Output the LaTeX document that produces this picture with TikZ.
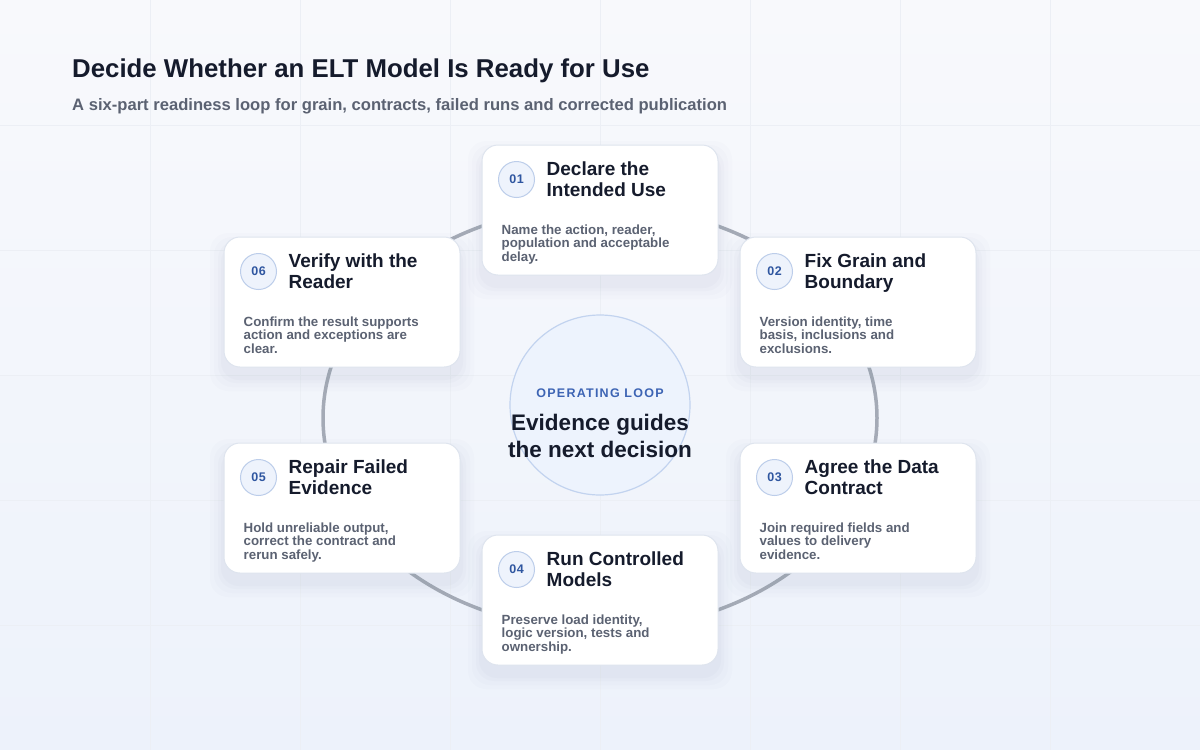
\documentclass[tikz,border=0pt]{standalone}
\usepackage{fontspec}
\setmainfont{Liberation Sans}
\usetikzlibrary{calc}

\definecolor{bgA}{HTML}{F8F9FC}
\definecolor{bgB}{HTML}{EDF2FB}
\definecolor{gridc}{HTML}{ECEFF5}
\definecolor{ringc}{HTML}{A4AAB6}
\definecolor{cardline}{HTML}{DEE4EE}
\definecolor{shadowc}{HTML}{7D8CAE}
\definecolor{numfill}{HTML}{EEF3FC}
\definecolor{numline}{HTML}{BCCDEA}
\definecolor{numtext}{HTML}{2F56A0}
\definecolor{ink}{HTML}{151B2C}
\definecolor{muted}{HTML}{5B6272}
\definecolor{hubfill}{HTML}{EDF3FD}
\definecolor{hubline}{HTML}{C2D3EF}
\definecolor{hubtag}{HTML}{3D64B4}

\tikzset{
  card/.style={draw=cardline, line width=1pt, fill=white, rounded corners=16pt,
    minimum width=236pt, minimum height=130pt, inner sep=0pt},
  num/.style={circle, draw=numline, fill=numfill, line width=1pt, minimum size=36pt,
    inner sep=0pt, text=numtext, font=\fontsize{12.5}{12.5}\selectfont\bfseries\addfontfeatures{LetterSpace=4}},
  head/.style={anchor=north west, inner sep=0pt, align=left, text=ink,
    font=\fontsize{19}{21}\selectfont\bfseries},
  body/.style={anchor=north west, inner sep=0pt, align=left, text=muted,
    font=\fontsize{13.3}{13.6}\selectfont\bfseries},
  ring/.style={draw=ringc, line width=3.5pt},
  hub/.style={circle, draw=hubline, fill=hubfill, line width=1.2pt, minimum size=180pt}
}

\begin{document}
\begin{tikzpicture}[x=1pt,y=-1pt]
\useasboundingbox (0,0) rectangle (1200,750);
\shade[top color=bgA, bottom color=bgB] (0,0) rectangle (1200,750);
\foreach \gx in {150,300,...,1050}
  \draw[gridc, line width=0.6pt] (\gx,0) -- (\gx,750);
\foreach \gy in {125,250,...,625}
  \draw[gridc, line width=0.6pt] (0,\gy) -- (1200,\gy);

\node[anchor=base west, inner sep=0pt, text=ink, font=\fontsize{25.8}{28}\selectfont\bfseries]
  (title) at (72,77) {Decide Whether an ELT Model Is Ready for Use};
\node[anchor=base west, inner sep=0pt, text=muted, font=\fontsize{16.6}{18}\selectfont\bfseries]
  (subtitle) at (72,110) {A six-part readiness loop for grain, contracts, failed runs and corrected publication};

\draw[ring] (600,418) ellipse [x radius=277pt, y radius=212pt];

\node[hub] (hub) at (600,405) {};
\node[anchor=base, inner sep=0pt, text=hubtag, font=\fontsize{12.5}{14}\selectfont\bfseries\addfontfeatures{LetterSpace=10}]
  (hubtag) at (600,397) {OPERATING LOOP};
\node[anchor=base, inner sep=0pt, text=ink, font=\fontsize{22.5}{26}\selectfont\bfseries]
  (hubone) at (600,430) {Evidence guides};
\node[anchor=base, inner sep=0pt, text=ink, font=\fontsize{22.5}{26}\selectfont\bfseries]
  (hubtwo) at (600,457) {the next decision};

\foreach \i/\x/\y/\head/\body in {
  1/600/210/{Declare the\\Intended Use}/{Name the action, reader,\\population and acceptable\\delay.},
  2/858/302/{Fix Grain and\\Boundary}/{Version identity, time\\basis, inclusions and\\exclusions.},
  3/858/508/{Agree the Data\\Contract}/{Join required fields and\\values to delivery\\evidence.},
  4/600/600/{Run Controlled\\Models}/{Preserve load identity,\\logic version, tests and\\ownership.},
  5/342/508/{Repair Failed\\Evidence}/{Hold unreliable output,\\correct the contract and\\rerun safely.},
  6/342/302/{Verify with the\\Reader}/{Confirm the result supports\\action and exceptions are\\clear.}}
{
  \foreach \s/\o in {14/0.02,10/0.025,6/0.03,3/0.035}
    \fill[shadowc, opacity=\o, rounded corners=18pt]
      (\x-118-\s,\y-65-\s+10) rectangle (\x+118+\s,\y+65+\s+10);
  \node[card] (c\i) at (\x,\y) {};
  \node[num] (n\i) at ([shift={(35,35)}]c\i.north west) {0\i};
  \node[head] (h\i) at ([shift={(65,17)}]c\i.north west) {\head};
  \node[body] (b\i) at ([shift={(20,80)}]c\i.north west) {\body};
}
\end{tikzpicture}
\end{document}
